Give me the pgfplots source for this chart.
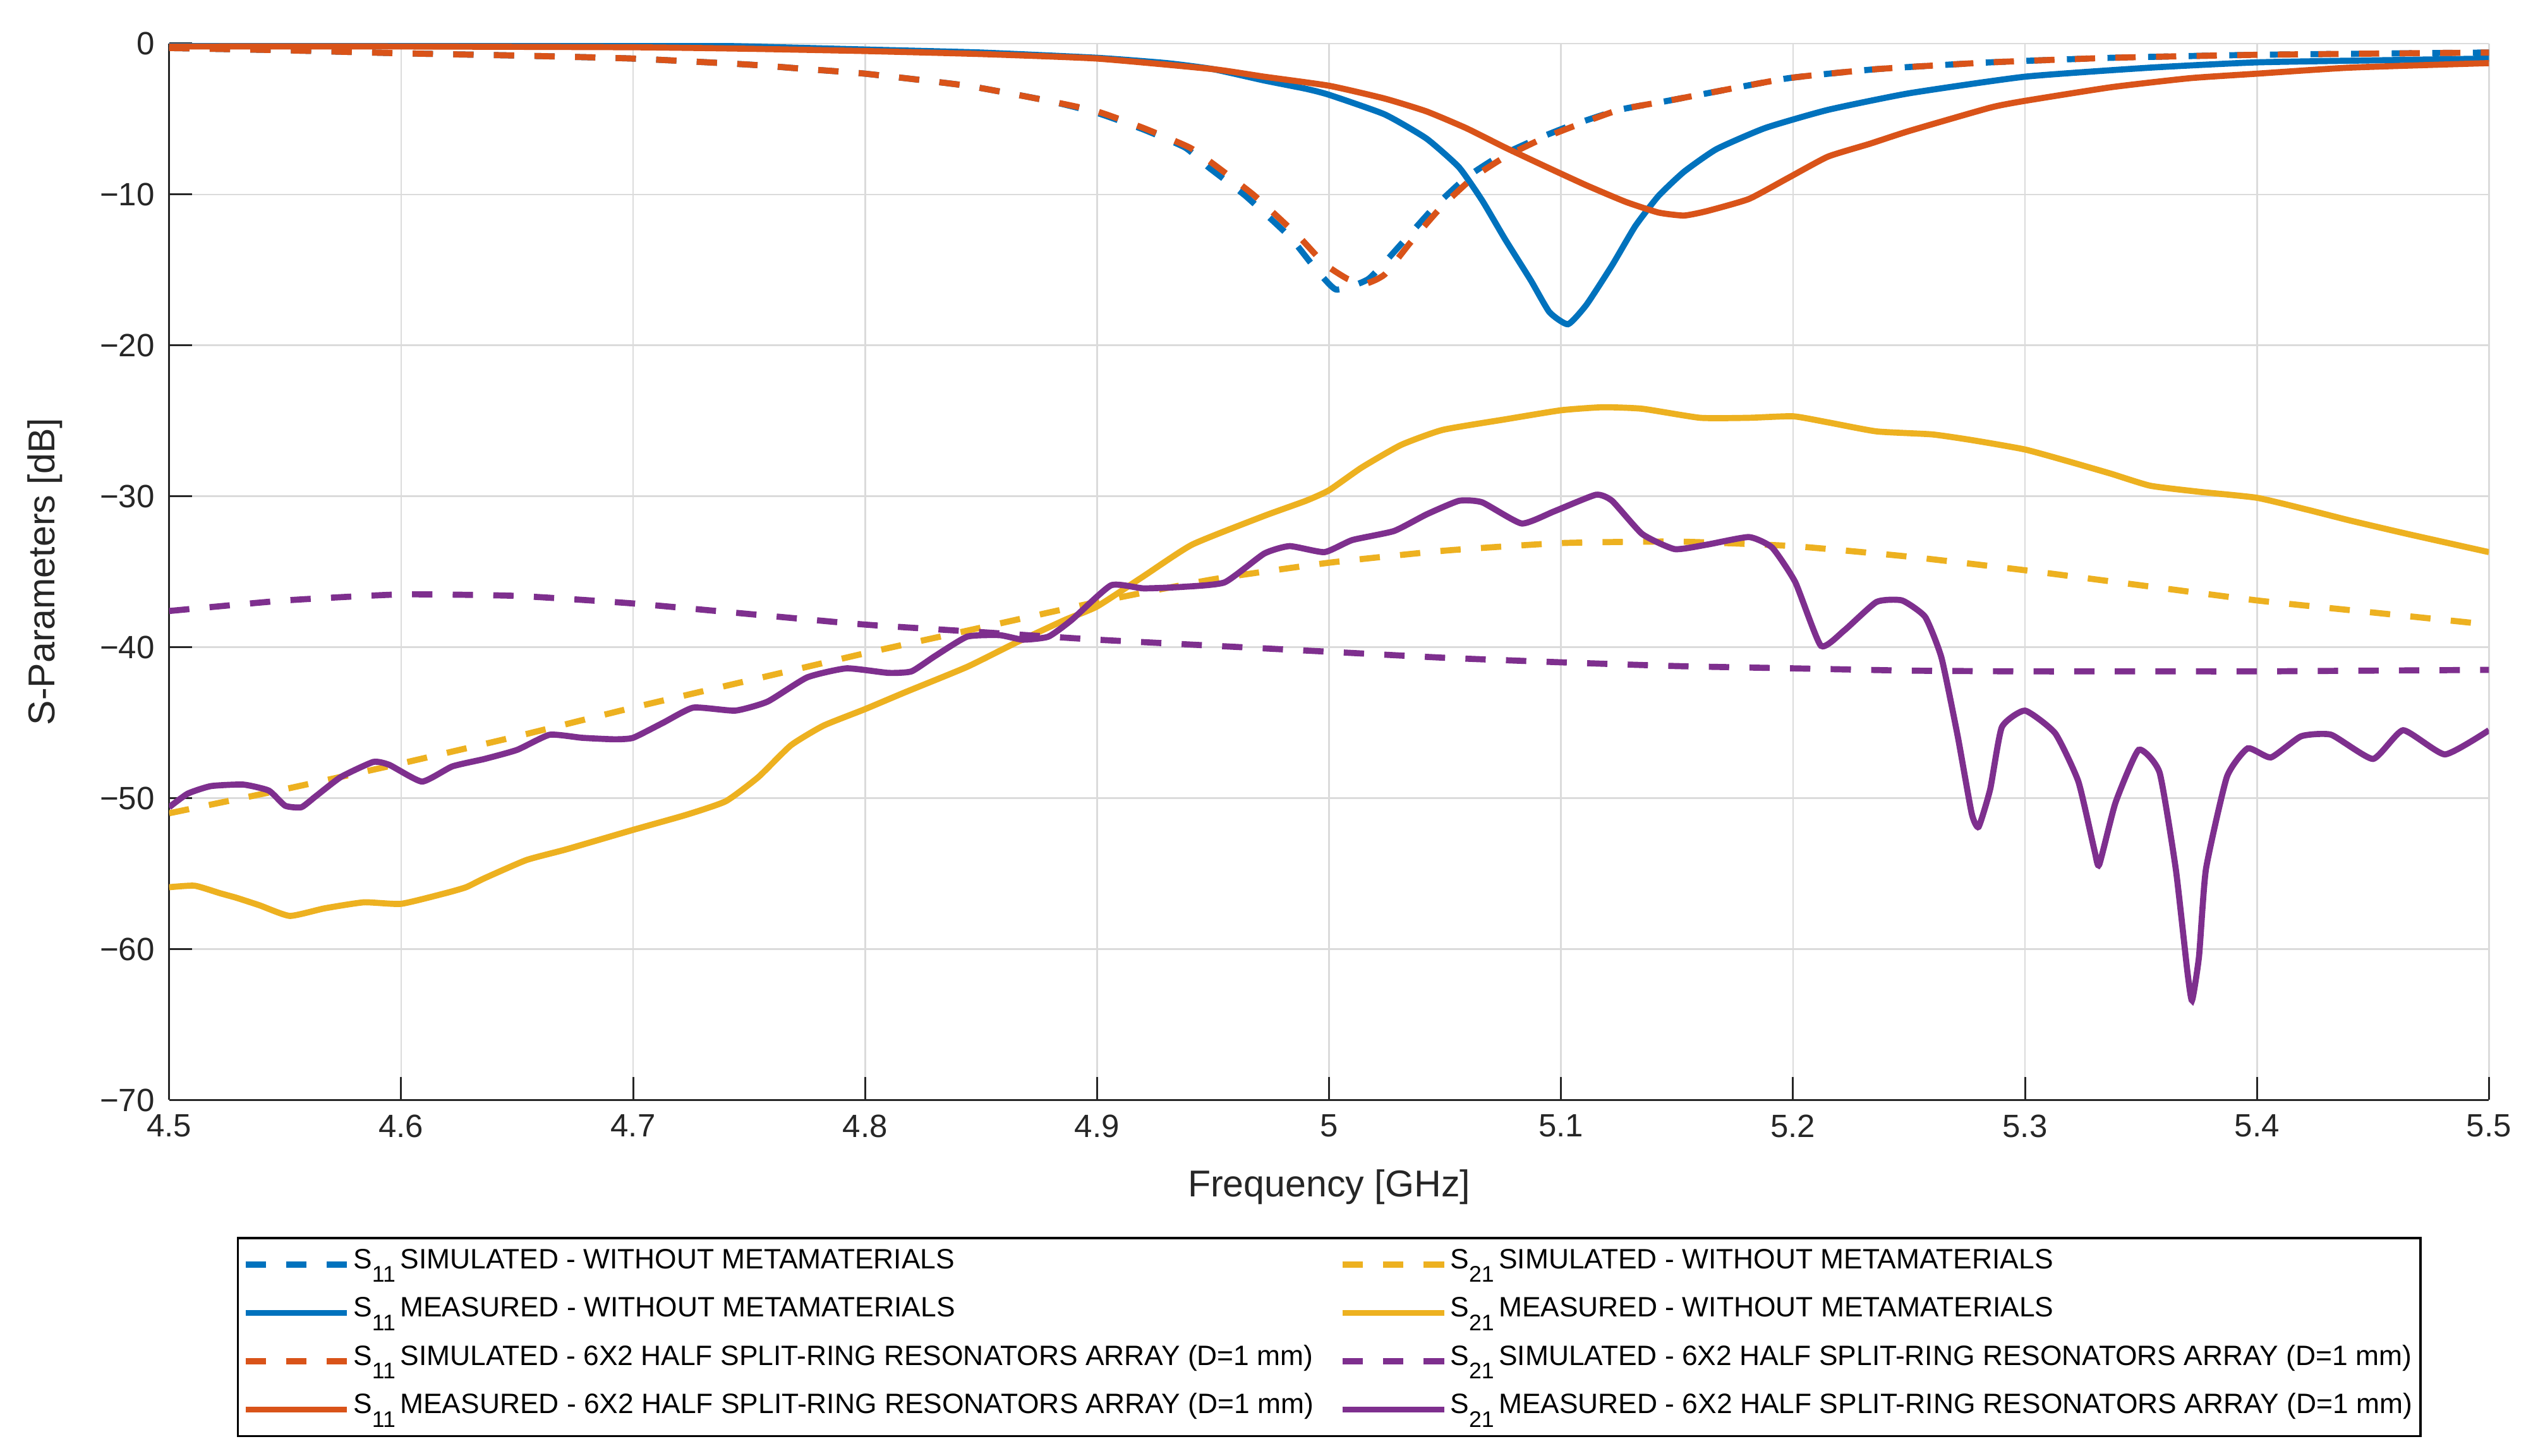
\documentclass[border=0pt]{standalone}
\usepackage{fontspec}
\setmainfont{Liberation Sans}
\usepackage{pgfplots}
\pgfplotsset{compat=1.18}
\definecolor{mblue}{rgb}{0,0.447,0.741}
\definecolor{morange}{rgb}{0.85,0.325,0.098}
\definecolor{myellow}{rgb}{0.929,0.694,0.125}
\definecolor{mpurple}{rgb}{0.494,0.184,0.556}
\definecolor{axgray}{rgb}{0.15,0.15,0.15}
\tikzset{
  simline/.style={line width=1.9pt, dash pattern=on 6.3pt off 6.3pt},
  measline/.style={line width=1.9pt},
}
\newcommand{\sub}[1]{\raisebox{-4.2pt}{\fontsize{7}{8}\selectfont #1}\,}
\begin{document}
\begin{tikzpicture}
\begin{axis}[
  at={(0,0)}, anchor=south west,
  width=720pt, height=328pt, scale only axis,
  xmin=4.5, xmax=5.5, ymin=-70, ymax=0,
  axis x line*=bottom, axis y line*=left,
  axis line style={-, axgray, line width=0.6pt},
  xtick={4.5,4.6,4.7,4.8,4.9,5.0,5.1,5.2,5.3,5.4,5.5},
  xticklabels={4.5,4.6,4.7,4.8,4.9,5,5.1,5.2,5.3,5.4,5.5},
  ytick={-70,-60,-50,-40,-30,-20,-10,0},
  yticklabels={−70,−60,−50,−40,−30,−20,−10,0},
  tick align=inside, major tick length=7.2pt,
  tick style={axgray, line width=0.6pt},
  ticklabel style={font=\fontsize{10}{12}\selectfont, text=axgray},
  xticklabel style={yshift=-1pt},
  yticklabel style={xshift=-1pt},
  grid=major, major grid style={line width=0.5pt, black!14},
  xlabel={Frequency [GHz]}, ylabel={S-Parameters [dB]},
  label style={font=\fontsize{11.6}{13}\selectfont, text=axgray},
  xlabel style={at={(axis description cs:0.5,-0.0823)}, anchor=center},
  ylabel style={at={(axis description cs:-0.0535,0.5)}, anchor=center, rotate=0},
  legend columns=2,
  legend cell align=left,
  legend style={at={(0.5,-0.1296)}, anchor=north, draw=black, line width=0.7pt,
    font=\fontsize{8.7}{10}\selectfont, inner sep=1.5pt, row sep=1.5pt,
    nodes={inner sep=1pt, text height=7pt, text depth=4.5pt},
    /tikz/every even column/.append style={column sep=7pt}},
  legend image code/.code={\draw[#1] (0pt,0pt) -- (31.5pt,0pt);},
]
\addlegendimage{simline, mblue}
\addlegendentry{S\sub{11}SIMULATED - WITHOUT METAMATERIALS}
\addlegendimage{simline, myellow}
\addlegendentry{S\sub{21}SIMULATED - WITHOUT METAMATERIALS}
\addlegendimage{measline, mblue}
\addlegendentry{S\sub{11}MEASURED - WITHOUT METAMATERIALS}
\addlegendimage{measline, myellow}
\addlegendentry{S\sub{21}MEASURED - WITHOUT METAMATERIALS}
\addlegendimage{simline, morange}
\addlegendentry{S\sub{11}SIMULATED - 6X2 HALF SPLIT-RING RESONATORS ARRAY (D=1 mm)}
\addlegendimage{simline, mpurple}
\addlegendentry{S\sub{21}SIMULATED - 6X2 HALF SPLIT-RING RESONATORS ARRAY (D=1 mm)}
\addlegendimage{measline, morange}
\addlegendentry{S\sub{11}MEASURED - 6X2 HALF SPLIT-RING RESONATORS ARRAY (D=1 mm)}
\addlegendimage{measline, mpurple}
\addlegendentry{S\sub{21}MEASURED - 6X2 HALF SPLIT-RING RESONATORS ARRAY (D=1 mm)}

% S11 simulated - without
\addplot[simline, mblue, forget plot, smooth, tension=0.3] coordinates {
(4.50,-0.3) (4.55,-0.45) (4.60,-0.65) (4.65,-0.8) (4.70,-1.0) (4.75,-1.4) (4.775,-1.7)
(4.80,-2.0) (4.844,-2.8) (4.879,-3.8) (4.90,-4.6) (4.92,-5.7) (4.938,-6.9) (4.948,-8.2)
(4.964,-10.1) (4.983,-12.8) (4.993,-14.7) (5.003,-16.3) (5.017,-15.6) (5.031,-13.3)
(5.045,-10.9) (5.059,-8.9) (5.073,-7.5) (5.09,-6.3) (5.104,-5.45) (5.125,-4.4) (5.146,-3.8)
(5.163,-3.3) (5.198,-2.3) (5.236,-1.7) (5.285,-1.25) (5.337,-0.95) (5.40,-0.75) (5.50,-0.6)
};
% S11 measured - without
\addplot[measline, mblue, forget plot, smooth, tension=0.3] coordinates {
(4.50,0.0) (4.55,0.0) (4.60,0.05) (4.65,0.0) (4.70,-0.05) (4.75,-0.2) (4.80,-0.4) (4.85,-0.6)
(4.90,-0.95) (4.93,-1.3) (4.95,-1.7) (4.972,-2.45) (4.99,-3.0) (5.00,-3.4) (5.024,-4.7)
(5.042,-6.3) (5.056,-8.2) (5.066,-10.4) (5.076,-13.0) (5.087,-15.7) (5.095,-17.8) (5.103,-18.6)
(5.111,-17.3) (5.122,-14.7) (5.132,-12.1) (5.142,-10.1) (5.153,-8.5) (5.167,-7.0) (5.188,-5.6)
(5.215,-4.4) (5.25,-3.3) (5.30,-2.2) (5.354,-1.6) (5.40,-1.25) (5.458,-1.1) (5.50,-1.0)
};
% S11 simulated - 6x2
\addplot[simline, morange, forget plot, smooth, tension=0.3] coordinates {
(4.50,-0.3) (4.55,-0.45) (4.60,-0.65) (4.65,-0.8) (4.70,-1.0) (4.75,-1.4) (4.775,-1.7)
(4.80,-2.0) (4.844,-2.8) (4.879,-3.8) (4.90,-4.5) (4.92,-5.6) (4.94,-6.9) (4.952,-8.2)
(4.968,-10.1) (4.987,-12.8) (4.998,-14.6) (5.008,-15.6) (5.016,-15.9) (5.024,-15.3)
(5.035,-13.2) (5.048,-10.9) (5.062,-8.9) (5.076,-7.5) (5.092,-6.3) (5.106,-5.45) (5.125,-4.4)
(5.146,-3.8) (5.163,-3.3) (5.198,-2.3) (5.236,-1.7) (5.285,-1.25) (5.337,-0.95) (5.40,-0.75) (5.50,-0.6)
};
% S11 measured - 6x2
\addplot[measline, morange, forget plot, smooth, tension=0.3] coordinates {
(4.50,-0.2) (4.60,-0.2) (4.70,-0.25) (4.75,-0.35) (4.80,-0.5) (4.85,-0.7) (4.90,-1.0)
(4.95,-1.7) (4.972,-2.2) (5.00,-2.8) (5.024,-3.65) (5.042,-4.5) (5.059,-5.6) (5.076,-6.9)
(5.094,-8.2) (5.111,-9.4) (5.128,-10.5) (5.142,-11.2) (5.153,-11.4) (5.163,-11.1) (5.181,-10.3)
(5.198,-8.9) (5.215,-7.5) (5.233,-6.65) (5.25,-5.8) (5.285,-4.25) (5.30,-3.8) (5.337,-2.9)
(5.371,-2.3) (5.40,-2.0) (5.44,-1.6) (5.50,-1.3)
};
% S21 simulated - without
\addplot[simline, myellow, forget plot, smooth, tension=0.3] coordinates {
(4.50,-51.0) (4.55,-49.4) (4.60,-47.7) (4.65,-45.9) (4.70,-44.0) (4.75,-42.2) (4.80,-40.4)
(4.85,-38.7) (4.90,-37.0) (4.95,-35.5) (5.00,-34.4) (5.05,-33.6) (5.10,-33.1) (5.15,-33.0)
(5.20,-33.3) (5.25,-34.0) (5.30,-34.9) (5.35,-35.9) (5.40,-36.9) (5.45,-37.7) (5.50,-38.5)
};
% S21 measured - without
\addplot[measline, myellow, forget plot, smooth, tension=0.3] coordinates {
(4.500,-55.9) (4.511,-55.8) (4.522,-56.3) (4.529,-56.6) (4.539,-57.1) (4.552,-57.8) (4.567,-57.3)
(4.584,-56.9) (4.600,-57.0) (4.619,-56.3) (4.628,-55.9) (4.636,-55.3) (4.654,-54.1) (4.671,-53.4)
(4.700,-52.1) (4.723,-51.1) (4.740,-50.2) (4.754,-48.6) (4.768,-46.5) (4.782,-45.2) (4.800,-44.1)
(4.817,-43.0) (4.844,-41.3) (4.865,-39.7) (4.886,-38.2) (4.900,-37.3) (4.920,-35.3) (4.941,-33.2)
(4.972,-31.3) (4.990,-30.3) (5.000,-29.6) (5.014,-28.1) (5.031,-26.6) (5.049,-25.6) (5.076,-24.9)
(5.100,-24.3) (5.118,-24.1) (5.135,-24.2) (5.160,-24.8) (5.181,-24.8) (5.200,-24.7) (5.215,-25.1)
(5.236,-25.7) (5.260,-25.9) (5.278,-26.3) (5.300,-26.9) (5.319,-27.7) (5.337,-28.5) (5.354,-29.3)
(5.375,-29.7) (5.400,-30.1) (5.422,-30.9) (5.440,-31.6) (5.465,-32.5) (5.500,-33.7)
};
% S21 simulated - 6x2
\addplot[simline, mpurple, forget plot, smooth, tension=0.3] coordinates {
(4.50,-37.6) (4.55,-36.9) (4.60,-36.5) (4.65,-36.6) (4.70,-37.1) (4.75,-37.8) (4.80,-38.5)
(4.85,-39.0) (4.90,-39.5) (4.95,-39.9) (5.00,-40.3) (5.05,-40.7) (5.10,-41.0) (5.15,-41.25)
(5.20,-41.4) (5.25,-41.55) (5.30,-41.6) (5.35,-41.6) (5.40,-41.6) (5.45,-41.55) (5.50,-41.5)
};
% S21 measured - 6x2
\addplot[measline, mpurple, forget plot, smooth, tension=0.3] coordinates {
(4.500,-50.6) (4.508,-49.7) (4.518,-49.2) (4.532,-49.1) (4.543,-49.5) (4.550,-50.5) (4.557,-50.6)
(4.563,-49.9) (4.574,-48.6) (4.588,-47.6) (4.595,-47.8) (4.609,-48.9) (4.622,-47.9) (4.636,-47.4)
(4.650,-46.8) (4.664,-45.8) (4.678,-46.0) (4.692,-46.1) (4.700,-46.0) (4.713,-45.0) (4.726,-44.0)
(4.744,-44.2) (4.758,-43.6) (4.775,-42.0) (4.792,-41.4) (4.810,-41.7) (4.820,-41.6) (4.830,-40.6)
(4.844,-39.3) (4.858,-39.2) (4.868,-39.5) (4.879,-39.3) (4.889,-38.2) (4.906,-35.9) (4.920,-36.1)
(4.937,-36.0) (4.955,-35.7) (4.972,-33.8) (4.983,-33.3) (4.998,-33.7) (5.010,-32.9) (5.028,-32.3)
(5.042,-31.2) (5.056,-30.3) (5.066,-30.4) (5.083,-31.8) (5.097,-31.0) (5.115,-29.9) (5.122,-30.3)
(5.135,-32.5) (5.149,-33.5) (5.163,-33.2) (5.181,-32.7) (5.191,-33.4) (5.201,-35.7) (5.212,-39.9)
(5.222,-38.9) (5.236,-37.0) (5.247,-36.9) (5.257,-38.0) (5.264,-40.7) (5.271,-45.9) (5.277,-51.0)
(5.280,-51.9) (5.285,-49.4) (5.290,-45.3) (5.300,-44.2) (5.313,-45.7) (5.323,-48.9) (5.330,-53.5)
(5.332,-54.4) (5.339,-50.3) (5.349,-46.8) (5.358,-48.3) (5.365,-54.7) (5.370,-61.5) (5.372,-63.4)
(5.375,-60.5) (5.378,-54.7) (5.387,-48.6) (5.396,-46.7) (5.406,-47.3) (5.419,-45.9) (5.432,-45.8)
(5.450,-47.4) (5.463,-45.5) (5.481,-47.1) (5.500,-45.5)
};
\end{axis}
\pgfresetboundingbox
\path[use as bounding box] (-52.5pt,-110.5pt) rectangle (731.5pt,341.5pt);
\end{tikzpicture}
\end{document}
